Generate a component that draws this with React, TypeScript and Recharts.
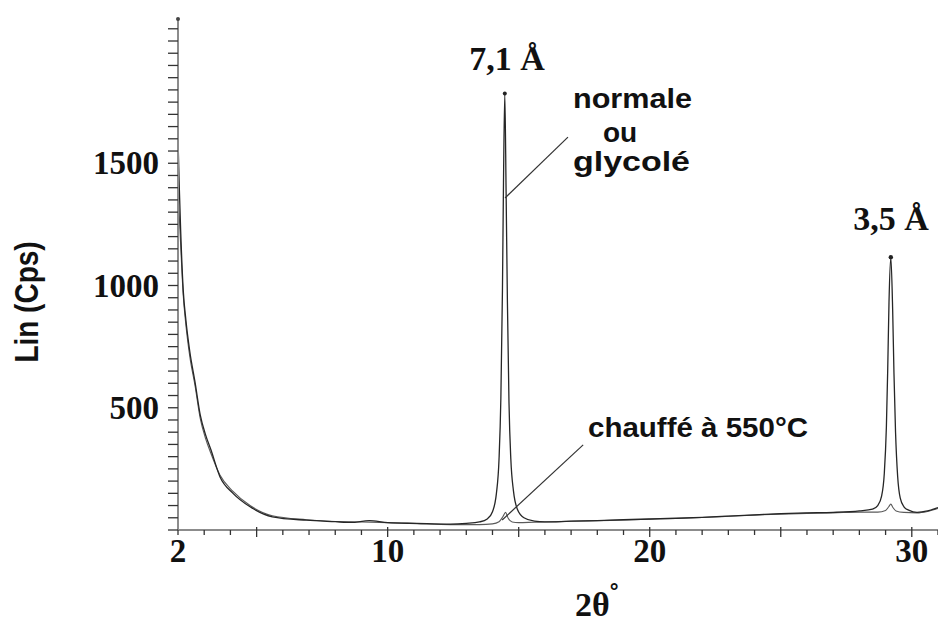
import React from 'react';
import { LineChart, Line, XAxis, YAxis, ReferenceLine, ReferenceDot } from 'recharts';

// 2θ (°) positions and intensities (Cps) — sample "normale ou glycolé"
const normaleX = [
  2.0, 2.05, 2.1, 2.2, 2.3, 2.45, 2.65, 2.85, 3.05, 3.25, 3.6, 4.1, 4.75, 5.6, 6.9, 8.0, 8.6, 9.3, 10.0,
  11.1, 12.4, 13.0, 13.5, 13.8, 14.0, 14.15, 14.25, 14.32, 14.38, 14.42, 14.47, 14.52, 14.57, 14.63,
  14.7, 14.8, 14.95, 15.2, 15.6, 16.0, 17.0, 18.0, 19.0, 20.0, 21.0, 22.0, 23.0, 24.0, 25.0, 26.0,
  27.0, 28.0, 28.5, 28.7, 28.85, 28.95, 29.03, 29.08, 29.13, 29.2, 29.27, 29.32, 29.38, 29.46, 29.56,
  29.7, 29.9, 30.2, 30.6, 31.0,
];
const normaleY = [
  1600, 1400, 1230, 980, 860, 730, 605, 470, 390, 330, 218, 150, 95, 54, 40, 34, 31, 38, 30,
  27, 24, 27, 33, 45, 75, 150, 290, 540, 980, 1420, 1785, 1380, 930, 520,
  290, 160, 85, 50, 36, 33, 36, 38, 42, 45, 48, 52, 57, 62, 67, 70,
  72, 78, 85, 100, 140, 230, 420, 650, 930, 1116, 900, 640, 400, 220, 130,
  95, 80, 72, 78, 92,
];

// sample "chauffé à 550°C"
const chauffeX = [
  2.0, 2.05, 2.1, 2.2, 2.3, 2.45, 2.65, 2.85, 3.05, 3.25, 3.6, 4.1, 4.75, 5.6, 6.9, 8.0, 9.0, 10.0,
  11.1, 12.4, 13.5, 14.0, 14.25, 14.4, 14.5, 14.6, 14.75, 15.0, 15.6, 16.0, 17.0, 18.0, 19.0, 20.0,
  21.0, 22.0, 23.0, 24.0, 25.0, 26.0, 27.0, 28.0, 28.7, 29.0, 29.12, 29.2, 29.28, 29.4, 29.7, 30.2,
  30.6, 31.0,
];
const chauffeY = [
  1350, 1280, 1170, 960, 840, 710, 590, 455, 375, 315, 225, 158, 100, 58, 42, 35, 33, 30,
  26, 22, 22, 25, 34, 55, 72, 48, 33, 30, 32, 33, 36, 38, 41, 44,
  47, 51, 56, 61, 65, 68, 70, 73, 73, 80, 95, 106, 92, 78, 72, 70,
  76, 88,
];

const xTickLabels = [2, 10, 20, 30];
const xMajorTicks = [5, 10, 15, 20, 25, 30];
const yTickLabels = [500, 1000, 1500];
const xTicks = Array.from({ length: 30 }, (_, i) => 2 + i);
const yTicks = Array.from({ length: 42 }, (_, i) => i * 50);

const X_DOMAIN: [number, number] = [2, 31];
const Y_DOMAIN: [number, number] = [0, 2090];

// leader lines (in data coordinates)
const leaderNormale = [{ x: 16.88, y: 1607 }, { x: 14.48, y: 1358 }];
const leaderChauffe = [{ x: 17.46, y: 348 }, { x: 14.37, y: 41 }];

const zip = (xs: number[], ys: number[]) => xs.map((x, i) => ({ x, y: ys[i] }));
const normaleData = zip(normaleX, normaleY);
const chauffeData = zip(chauffeX, chauffeY);

const apex = (lo: number, hi: number) => {
  let best = { x: 0, y: -1 };
  normaleData.forEach((p) => {
    if (p.x >= lo && p.x <= hi && p.y > best.y) best = p;
  });
  return best;
};
const apex1 = apex(10, 20);
const apex2 = apex(20, 31);

const SERIF = "'Liberation Serif', 'Times New Roman', serif";
const SANS = "'Liberation Sans', Arial, sans-serif";

const XTick = (props: any) => {
  const { x, y, payload } = props;
  const v = payload.value;
  const major = xMajorTicks.includes(v);
  return (
    <g>
      <line x1={x} x2={x} y1={major ? y - 3 : y} y2={y + (major ? 7 : 5)} stroke="#333" strokeWidth={1.3} />
      {xTickLabels.includes(v) && (
        <text x={x} y={y + 32} textAnchor="middle" fontFamily={SERIF} fontWeight="bold" fontSize={33} fill="#111">
          {v}
        </text>
      )}
    </g>
  );
};

const YTick = (props: any) => {
  const { x, y, payload } = props;
  const v = payload.value;
  return (
    <g>
      <line x1={x - 10} x2={x} y1={y} y2={y} stroke="#333" strokeWidth={1.3} />
      {yTickLabels.includes(v) && (
        <text x={x - 19} y={y + 11} textAnchor="end" fontFamily={SERIF} fontWeight="bold" fontSize={33} fill="#111">
          {v}
        </text>
      )}
    </g>
  );
};

export default function App() {
  return (
    <div style={{ position: 'absolute', left: 0, top: 0, width: 938, height: 626, background: '#fff' }}>
      <LineChart width={938} height={626} margin={{ top: 19, right: 0, left: 0, bottom: 0 }}>
        <XAxis
          type="number"
          dataKey="x"
          domain={X_DOMAIN}
          ticks={xTicks}
          interval={0}
          allowDataOverflow
          height={96}
          tick={(p: any) => <XTick {...p} />}
          tickSize={0}
          tickMargin={0}
          tickLine={false}
          axisLine={{ stroke: '#8c8c8c', strokeWidth: 2 }}
        />
        <YAxis
          type="number"
          domain={Y_DOMAIN}
          ticks={yTicks}
          interval={0}
          allowDataOverflow
          width={178}
          tick={(p: any) => <YTick {...p} />}
          tickSize={0}
          tickMargin={0}
          tickLine={false}
          axisLine={{ stroke: '#8c8c8c', strokeWidth: 2 }}
        />
        <Line
          data={chauffeData}
          dataKey="y"
          type="monotone"
          stroke="#5a5a5a"
          strokeWidth={1.1}
          dot={false}
          isAnimationActive={false}
        />
        <Line
          data={normaleData}
          dataKey="y"
          type="monotone"
          stroke="#262626"
          strokeWidth={1.3}
          dot={false}
          isAnimationActive={false}
        />
        <ReferenceLine segment={leaderNormale} stroke="#333" strokeWidth={1.2} ifOverflow="visible" />
        <ReferenceLine segment={leaderChauffe} stroke="#333" strokeWidth={1.2} ifOverflow="visible" />
        <ReferenceDot x={apex1.x} y={apex1.y} r={2} fill="#222" stroke="none" ifOverflow="visible" />
        <ReferenceDot x={apex2.x} y={apex2.y} r={2.2} fill="#222" stroke="none" ifOverflow="visible" />
        <ReferenceDot x={X_DOMAIN[0]} y={Y_DOMAIN[1]} r={2} fill="#444" stroke="none" ifOverflow="visible" />
      </LineChart>
      <svg
        width={938}
        height={626}
        style={{ position: 'absolute', left: 0, top: 0, pointerEvents: 'none' }}
      >
        <text x={507} y={70} textAnchor="middle" fontFamily={SERIF} fontWeight="bold" fontSize={34} fill="#111">
          7,1 Å
        </text>
        <text x={891} y={230} textAnchor="middle" fontFamily={SERIF} fontWeight="bold" fontSize={34} fill="#111">
          3,5 Å
        </text>
        <text x={573} y={108} fontFamily={SANS} fontWeight="bold" fontSize={28} fill="#111" textLength={119} lengthAdjust="spacingAndGlyphs">
          normale
        </text>
        <text x={603} y={142} fontFamily={SANS} fontWeight="bold" fontSize={28} fill="#111">
          ou
        </text>
        <text x={573} y={171} fontFamily={SANS} fontWeight="bold" fontSize={28} fill="#111" textLength={117} lengthAdjust="spacingAndGlyphs">
          glycolé
        </text>
        <text x={588} y={437} fontFamily={SANS} fontWeight="bold" fontSize={28} fill="#111" textLength={220} lengthAdjust="spacingAndGlyphs">
          chauffé à 550°C
        </text>
        <g transform="translate(38, 302) scale(1.2, 1) rotate(-90)">
          <text x={0} y={0} textAnchor="middle" fontFamily={SANS} fontWeight="bold" fontSize={28} fill="#111">
            Lin (Cps)
          </text>
        </g>
        <text x={575} y={616} fontFamily={SERIF} fontWeight="bold" fontSize={34} fill="#111">
          2θ
          <tspan fontSize={22} dy={-17} fontFamily={SANS}>°</tspan>
        </text>
      </svg>
    </div>
  );
}
